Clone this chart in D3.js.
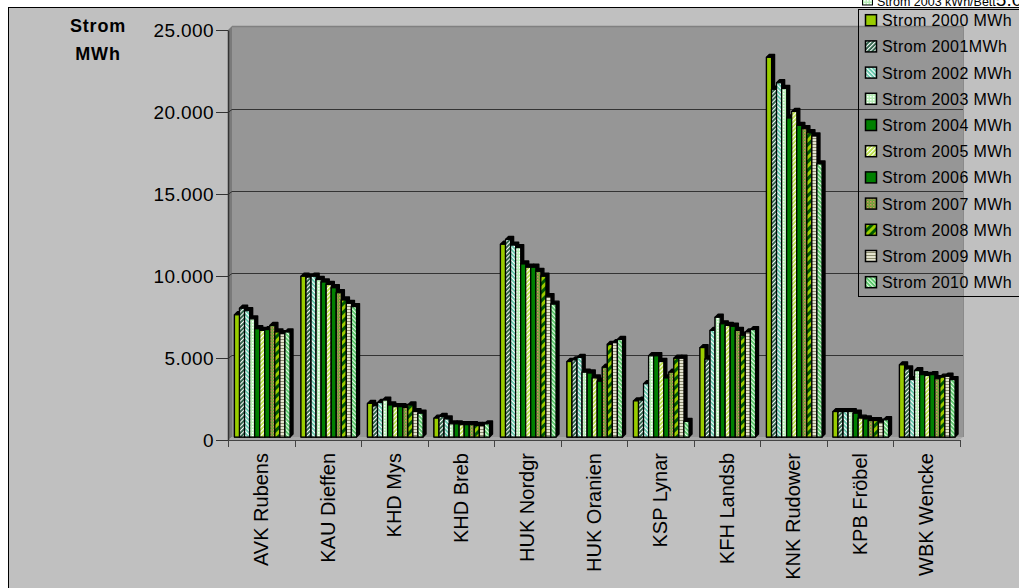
<!DOCTYPE html>
<html>
<head>
<meta charset="utf-8">
<script src="https://cdn.jsdelivr.net/npm/d3@7"></script>
<style>
  html, body { margin: 0; padding: 0; background: #ffffff; }
  svg { display: block; }
  text { font-family: "Liberation Sans", Arial, sans-serif; fill: #000; }
</style>
</head>
<body>
<svg id="chart" width="1019" height="588"></svg>
<script>
// Standorte (Kategorien)
const categories = ["AVK Rubens", "KAU Dieffen", "KHD Mys", "KHD Breb", "HUK Nordgr",
  "HUK Oranien", "KSP Lynar", "KFH Landsb", "KNK Rudower", "KPB Fröbel", "WBK Wencke"];

// Stromverbrauch je Jahr in MWh, in der Reihenfolge der Standorte
const strom2000 = [7450, 9800, 2050, 1150, 11750, 4600, 2200, 5450, 23150, 1550, 4400];
const strom2001 = [7850, 9750, 1900, 1250, 12050, 4700, 2250, 4750, 21200, 1550, 4150];
const strom2002 = [7700, 9800, 2100, 1100, 11700, 4850, 3250, 6500, 21600, 1550, 3500];
const strom2003 = [7200, 9600, 2250, 800, 11550, 3950, 4950, 7300, 21250, 1550, 4050];
const strom2004 = [6600, 9450, 1950, 800, 10550, 3900, 4950, 6900, 19450, 1450, 3800];
const strom2005 = [6500, 9300, 1850, 750, 10350, 3600, 4600, 6800, 19850, 1150, 3750];
const strom2006 = [6550, 9100, 1850, 750, 10350, 3400, 3600, 6750, 19000, 1100, 3800];
const strom2007 = [6800, 8800, 1800, 750, 10100, 4250, 3950, 6500, 18800, 1000, 3550];
const strom2008 = [6400, 8350, 1950, 700, 9800, 5650, 4800, 6200, 18550, 1000, 3650];
const strom2009 = [6300, 8150, 1550, 700, 8550, 5750, 4800, 6400, 18350, 900, 3700];
const strom2010 = [6400, 7950, 1450, 800, 8100, 5950, 950, 6550, 16650, 1050, 3500];

const seriesNames = ["Strom 2000 MWh", "Strom 2001MWh", "Strom 2002 MWh", "Strom 2003 MWh",
  "Strom 2004 MWh", "Strom 2005 MWh", "Strom 2006 MWh", "Strom 2007 MWh",
  "Strom 2008 MWh", "Strom 2009 MWh", "Strom 2010 MWh"];
const seriesValues = [strom2000, strom2001, strom2002, strom2003, strom2004, strom2005,
  strom2006, strom2007, strom2008, strom2009, strom2010];

const yTicks = [0, 5000, 10000, 15000, 20000, 25000];

const svg = d3.select("#chart");
const defs = svg.append("defs");

// Fill patterns for the series
function stripes(id, period, bg, fg, sw, angle) {
  const p = defs.append("pattern").attr("id", id)
    .attr("patternUnits", "userSpaceOnUse")
    .attr("width", period).attr("height", period)
    .attr("patternTransform", `rotate(${angle})`);
  p.append("rect").attr("width", period).attr("height", period).attr("fill", bg);
  p.append("rect").attr("width", sw).attr("height", period).attr("fill", fg);
}
function dots(id, bg, fg) {
  const p = defs.append("pattern").attr("id", id)
    .attr("patternUnits", "userSpaceOnUse").attr("width", 3).attr("height", 3);
  p.append("rect").attr("width", 3).attr("height", 3).attr("fill", bg);
  p.append("rect").attr("width", 1.5).attr("height", 1.5).attr("fill", fg);
}
function speckle(id, a, b) {
  const p = defs.append("pattern").attr("id", id)
    .attr("patternUnits", "userSpaceOnUse").attr("width", 3).attr("height", 3);
  p.append("rect").attr("width", 3).attr("height", 3).attr("fill", a);
  p.append("rect").attr("width", 1.5).attr("height", 1.5).attr("fill", b);
  p.append("rect").attr("x", 1.5).attr("y", 1.5).attr("width", 1).attr("height", 1).attr("fill", b);
}
stripes("p2001", 3, "#2a6046", "#ffffff", 1.1, 45);
stripes("p2002", 3, "#5cc4a6", "#ffffff", 1.2, -45);
dots("p2003", "#b8eeb8", "#ffffff");
stripes("p2005", 3, "#b8e040", "#ffffff", 1.2, 45);
speckle("p2007", "#5ea832", "#d88a66");
stripes("p2008", 6, "#9ccc00", "#005a00", 3, 45);
stripes("p2009", 3, "#e4e4d0", "#8c8c70", 1, 90);
stripes("p2010", 3, "#52c464", "#e6ffe6", 1.2, -45);

const fills = ["#99cc00", "url(#p2001)", "url(#p2002)", "url(#p2003)", "#008000",
  "url(#p2005)", "#008000", "url(#p2007)", "url(#p2008)", "url(#p2009)", "url(#p2010)"];

// Chart area
svg.append("rect").attr("x", 8.5).attr("y", 7.5).attr("width", 1020).attr("height", 600)
  .attr("fill", "#c0c0c0").attr("stroke", "#000").attr("stroke-width", 1);

// Scales
const wallLeft = 232, wallRight = 963, depth = 3;
const y = d3.scaleLinear().domain([0, 25000]).range([437, 27]);
const x0 = d3.scaleBand().domain(categories).range([228, 959.5]).padding(0);
const x1 = d3.scaleBand().domain(seriesNames).range([6.5, 62]).padding(0);

// Back wall, side wall and floor
svg.append("rect").attr("x", wallLeft).attr("y", y(25000) - 1)
  .attr("width", wallRight - wallLeft).attr("height", y(0) - y(25000) + 1)
  .attr("fill", "#969696");
svg.append("line").attr("x1", wallLeft).attr("x2", wallRight)
  .attr("y1", y(25000) - 0.5).attr("y2", y(25000) - 0.5)
  .attr("stroke", "#808080").attr("stroke-width", 1.5);
svg.append("line").attr("x1", wallRight + 0.5).attr("x2", wallRight + 0.5)
  .attr("y1", y(25000) - 1).attr("y2", y(0))
  .attr("stroke", "#8a8a8a").attr("stroke-width", 1);
svg.append("path")
  .attr("d", `M228,${y(25000) + 3}L${wallLeft},${y(25000) - 1}L${wallLeft},${y(0)}L228,${y(0) + 3}Z`)
  .attr("fill", "#7a7a7a");
svg.append("path")
  .attr("d", `M228,${y(0) + 3}L${wallLeft},${y(0)}L${wallRight},${y(0)}L${wallRight - 4},${y(0) + 3}Z`)
  .attr("fill", "#a8a8a8");

// Gridlines on the back and side wall
const grid = svg.append("g");
yTicks.filter(v => v > 0 && v < 25000).forEach(v => {
  grid.append("line").attr("x1", wallLeft).attr("x2", wallRight)
    .attr("y1", Math.round(y(v)) + 0.5).attr("y2", Math.round(y(v)) + 0.5)
    .attr("stroke", "#333").attr("stroke-width", 1);
  grid.append("line").attr("x1", 228).attr("x2", wallLeft)
    .attr("y1", Math.round(y(v)) + 3.5).attr("y2", Math.round(y(v)) + 0.5)
    .attr("stroke", "#333").attr("stroke-width", 1);
});

// Bars with black 3D depth faces
const barsG = svg.append("g");
categories.forEach((cat, ci) => {
  seriesNames.forEach((name, si) => {
    const v = seriesValues[si][ci];
    const bx = x0(cat) + x1(name);
    const bw = x1.bandwidth();
    const by = y(v), bb = y(0);
    barsG.append("path")
      .attr("d", `M${bx},${by}L${bx + depth},${by - depth}L${bx + bw + depth},${by - depth}` +
        `L${bx + bw + depth},${bb - depth}L${bx + bw},${bb}L${bx},${bb}Z`)
      .attr("fill", "#000").attr("stroke", "#000").attr("stroke-width", 1.4)
      .attr("stroke-linejoin", "round");
    barsG.append("rect")
      .attr("x", bx).attr("y", by).attr("width", bw).attr("height", bb - by)
      .attr("fill", fills[si]).attr("stroke", "#000").attr("stroke-width", 1.2);
  });
});

// Value axis
const de = d3.formatLocale({ decimal: ",", thousands: ".", grouping: [3], currency: ["", "€"] });
const fmt = de.format(",d");
const yAxisScale = y.copy().range([y(0) + 3, y(25000) + 3]);
const yAxis = svg.append("g").attr("transform", "translate(228,0)")
  .call(d3.axisLeft(yAxisScale).tickValues(yTicks).tickFormat(fmt).tickSize(6).tickSizeOuter(0).tickPadding(8));
yAxis.select(".domain").attr("stroke", "#333").attr("stroke-width", 1.5);
yAxis.selectAll(".tick line").attr("stroke", "#333").attr("x1", -12).attr("x2", 0);
yAxis.selectAll(".tick text").style("font-size", "19px").style("letter-spacing", "0.4px").attr("fill", "#000");

// Category axis
const xAxis = svg.append("g").attr("transform", `translate(0,${y(0) + 3})`)
  .call(d3.axisBottom(x0).tickSize(0).tickSizeOuter(0));
xAxis.select(".domain").attr("stroke", "#444").attr("stroke-width", 1);
xAxis.selectAll(".tick text")
  .style("font-size", "20px")
  .attr("transform", "rotate(-90)")
  .attr("text-anchor", "end")
  .attr("x", -13).attr("y", 0).attr("dy", "0.35em");
const boundaries = categories.map(c => x0(c)).concat([x0(categories[categories.length - 1]) + x0.step()]);
xAxis.selectAll(".bound").data(boundaries).join("line")
  .attr("class", "bound")
  .attr("x1", d => Math.round(d) + 0.5).attr("x2", d => Math.round(d) + 0.5)
  .attr("y1", 0).attr("y2", 7)
  .attr("stroke", "#444");

// Axis title
const title = svg.append("text").attr("text-anchor", "middle")
  .style("font-size", "18px").style("font-weight", "bold").style("letter-spacing", "0.8px");
title.append("tspan").attr("x", 98).attr("y", 32).text("Strom");
title.append("tspan").attr("x", 98).attr("y", 60).text("MWh");

// Text above the legend, cut off at the top edge
const topNote = svg.append("g");
topNote.append("rect").attr("x", 862.5).attr("y", -4).attr("width", 10).attr("height", 9)
  .attr("fill", "url(#p2003)").attr("stroke", "#000");
const noteText = topNote.append("text").attr("x", 877).attr("y", 6).style("font-size", "12.5px");
noteText.append("tspan").text("Strom 2003 kWh/Bett");
noteText.append("tspan").style("font-size", "19px").text("5.00");

// Legend
const legend = svg.append("g");
legend.append("rect").attr("x", 858.5).attr("y", 9.5).attr("width", 200).attr("height", 287)
  .attr("fill", "none").attr("stroke", "#000").attr("stroke-width", 1);
seriesNames.forEach((name, i) => {
  const ty = 26.2 + i * 26.2;
  legend.append("rect").attr("x", 865.5).attr("y", ty - 11.5).attr("width", 11).attr("height", 11)
    .attr("fill", fills[i]).attr("stroke", "#000").attr("stroke-width", 1.5);
  legend.append("text").attr("x", 882).attr("y", ty)
    .style("font-size", "16px").style("letter-spacing", "0.4px").text(name);
});
</script>
</body>
</html>
